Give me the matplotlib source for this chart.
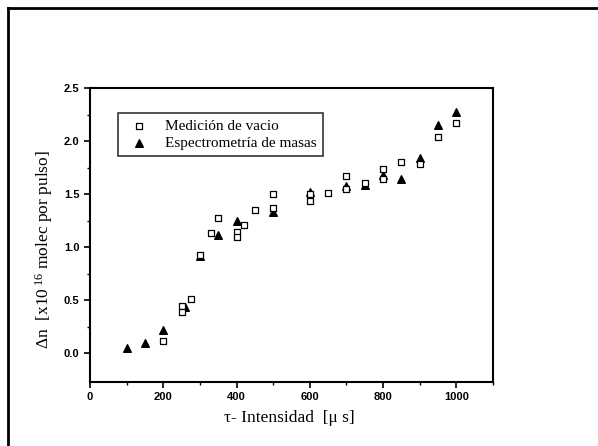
import numpy as np
import matplotlib
matplotlib.use('Agg')
from matplotlib import pyplot as plt
from matplotlib.lines import Line2D

# data
vac_x = [200, 250, 250, 275, 300, 330, 350, 400, 400, 420, 450, 500, 500,
         600, 600, 650, 700, 700, 750, 800, 800, 850, 900, 950, 1000]
vac_y = [0.12, 0.45, 0.39, 0.51, 0.93, 1.13, 1.28, 1.14, 1.10, 1.21, 1.35, 1.50, 1.37,
         1.50, 1.44, 1.51, 1.67, 1.55, 1.61, 1.74, 1.64, 1.80, 1.78, 2.04, 2.175]

esp_x = [100, 150, 200, 260, 300, 350, 400, 500, 600, 700, 750, 800, 850, 900, 950, 1000]
esp_y = [0.05, 0.10, 0.22, 0.44, 0.92, 1.12, 1.25, 1.33, 1.52, 1.58, 1.59, 1.685, 1.64, 1.84, 2.15, 2.27]

plt.rcParams['mathtext.fontset'] = 'custom'
plt.rcParams['mathtext.rm'] = 'Liberation Serif'
plt.rcParams['mathtext.it'] = 'Liberation Serif:italic'

fig = plt.figure(figsize=(5.98, 4.46), dpi=100)
ax = fig.add_axes([0.1505, 0.1435, 0.674, 0.659])

ax.scatter(vac_x, vac_y, marker='s', s=16, facecolors='white', edgecolors='black',
           linewidths=0.9, label='Medición de vacio', zorder=3)
ax.scatter(esp_x, esp_y, marker='^', s=30, color='black', label='Espectrometría de masas', zorder=2)

ax.set_xlim(0, 1100)
ax.set_ylim(-0.27, 2.5)
ax.set_xticks([0, 200, 400, 600, 800, 1000])
ax.set_xticks([100, 300, 500, 700, 900, 1100], minor=True)
ax.set_yticks([0.0, 0.5, 1.0, 1.5, 2.0, 2.5])
ax.set_yticklabels(['0.0', '0.5', '1.0', '1.5', '2.0', '2.5'])
ax.set_yticks([0.25, 0.75, 1.25, 1.75, 2.25], minor=True)
ax.tick_params(which='major', direction='out', length=4, width=1.2)
ax.tick_params(which='minor', direction='out', length=2.5, width=1)
for lab in ax.get_xticklabels() + ax.get_yticklabels():
    lab.set_fontfamily('Liberation Sans')
    lab.set_fontweight('bold')
    lab.set_fontsize(8)
for s in ax.spines.values():
    s.set_linewidth(1.5)

ax.set_xlabel('τ- Intensidad  [μ s]', fontfamily='Liberation Serif', fontsize=12.5)
ax.xaxis.set_label_coords(0.495, -0.095)
ax.set_ylabel(r'Δn  [x10$^{\ 16}$ molec por pulso]', fontfamily='Liberation Serif',
              fontsize=12.5)
ax.yaxis.set_label_coords(-0.087, 0.45)

leg = ax.legend(loc='upper left', bbox_to_anchor=(0.069, 0.915), frameon=True, fancybox=False,
                edgecolor='black', prop={'family': 'Liberation Serif', 'size': 11},
                handletextpad=0.7, borderpad=0.4, labelspacing=0.25, handlelength=2.0,
                borderaxespad=0)
leg.get_frame().set_linewidth(1.2)

# page frame of the scan
fig.add_artist(Line2D([8/598, 8/598], [0, 1 - 8/446], color='black', lw=2))
fig.add_artist(Line2D([8/598, 1], [1 - 8/446, 1 - 8/446], color='black', lw=2))

plt.savefig('out.png', dpi=100)
